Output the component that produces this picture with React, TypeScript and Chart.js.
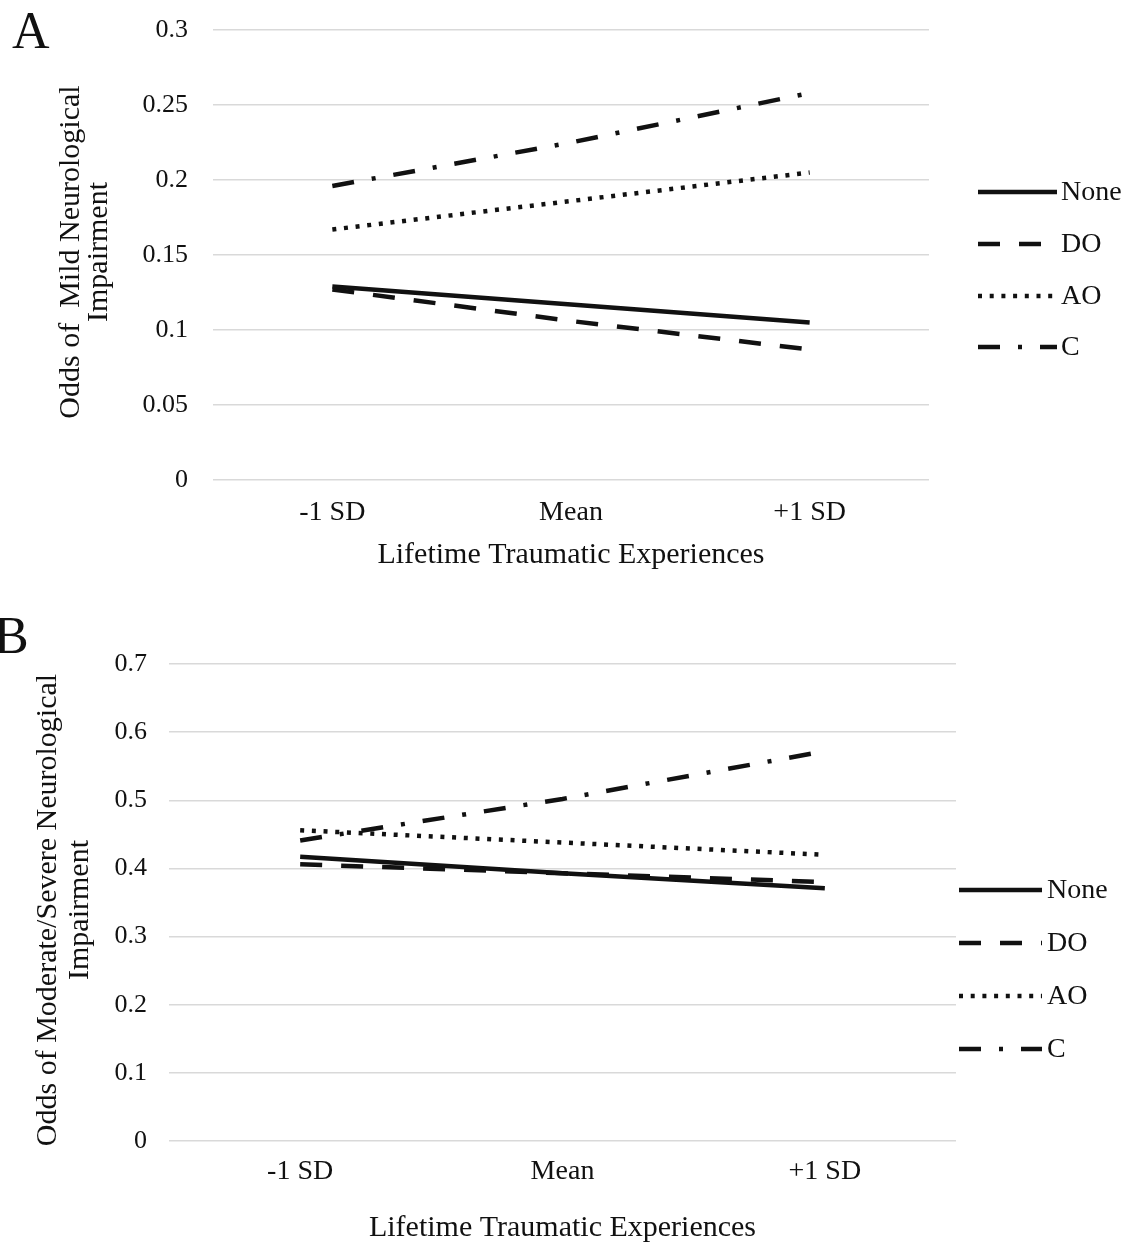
import React, { useEffect, useRef } from "react";
import { Chart, registerables } from "chart.js";

Chart.register(...registerables);

// ---------- data ----------
const categories = ["-1 SD", "Mean", "+1 SD"];
const seriesNames = ["None", "DO", "AO", "C"];

// Panel A: Odds of Mild Neurological Impairment
const mildNone = [0.129, 0.117, 0.105];
const mildDO = [0.127, 0.106, 0.087];
const mildAO = [0.167, 0.186, 0.205];
const mildC = [0.196, 0.225, 0.258];

// Panel B: Odds of Moderate/Severe Neurological Impairment
const modNone = [0.417, 0.393, 0.371];
const modDO = [0.406, 0.393, 0.38];
const modAO = [0.456, 0.438, 0.42];
const modC = [0.441, 0.502, 0.572];

const xAxisTitle = "Lifetime Traumatic Experiences";
const yTitleA = ["Odds of  Mild Neurological", "Impairment"];
const yTitleB = ["Odds of Moderate/Severe Neurological", "Impairment"];

// ---------- styles ----------
const FONT = '"Liberation Serif", "Times New Roman", serif';
const INK = "#111111";
const GRID = "#d9d9d9";
const LINE_W = 4.5;
const dashes: number[][] = [[], [22, 19], [4, 7.7], [22, 18, 4, 18]];

type Spec = {
  letter: string;
  letterX: number;
  letterY: number;
  series: number[][];
  yMax: number;
  yStep: number;
  height: number;
  plot: { left: number; right: number; top: number; bottom: number };
  yTickPad: number;
  xTickPad: number;
  xTitleY: number;
  yTitle: string[];
  yTitleX: number[];
  yTitleCY: number;
  legX0: number;
  legX1: number;
  legTX: number;
  legRows: number[];
};

const W = 1137;

function Panel({ spec }: { spec: Spec }) {
  const ref = useRef<HTMLCanvasElement | null>(null);

  useEffect(() => {
    if (!ref.current) return;
    const s = spec;
    const decor = {
      id: "decor",
      afterDraw(chart: any) {
        const ctx: CanvasRenderingContext2D = chart.ctx;
        const area = chart.chartArea;
        ctx.save();
        ctx.fillStyle = INK;
        // panel letter
        ctx.font = `52px ${FONT}`;
        ctx.textAlign = "left";
        ctx.textBaseline = "alphabetic";
        ctx.fillText(s.letter, s.letterX, s.letterY);
        // x title
        ctx.font = `30px ${FONT}`;
        ctx.textAlign = "center";
        ctx.textBaseline = "middle";
        ctx.fillText(xAxisTitle, (area.left + area.right) / 2, s.xTitleY);
        // y title (rotated)
        s.yTitle.forEach((t, i) => {
          ctx.save();
          ctx.translate(s.yTitleX[i], s.yTitleCY);
          ctx.rotate(-Math.PI / 2);
          ctx.fillText(t, 0, 0);
          ctx.restore();
        });
        // legend
        ctx.textAlign = "left";
        ctx.font = `28px ${FONT}`;
        chart.data.datasets.forEach((ds: any, i: number) => {
          const y = s.legRows[i];
          ctx.save();
          ctx.strokeStyle = INK;
          ctx.lineWidth = LINE_W;
          ctx.lineCap = "butt";
          ctx.setLineDash(dashes[i]);
          ctx.beginPath();
          ctx.moveTo(s.legX0, y);
          ctx.lineTo(s.legX1, y);
          ctx.stroke();
          ctx.restore();
          ctx.fillText(ds.label, s.legTX, y + 1);
        });
        ctx.restore();
      },
    };

    const chart = new Chart(ref.current, {
      type: "line",
      data: {
        labels: categories,
        datasets: s.series.map((vals, i) => ({
          label: seriesNames[i],
          data: vals,
          borderColor: INK,
          backgroundColor: INK,
          borderWidth: LINE_W,
          borderDash: dashes[i],
          borderCapStyle: "butt",
          pointRadius: 0,
          pointHoverRadius: 0,
          tension: 0,
          fill: false,
        })),
      },
      options: {
        animation: false,
        responsive: true,
        maintainAspectRatio: false,
        events: [],
        layout: {
          padding: { left: 0, top: s.plot.top, right: W - s.plot.right, bottom: 0 },
        },
        plugins: {
          legend: { display: false },
          tooltip: { enabled: false },
          title: { display: false },
        },
        scales: {
          x: {
            type: "category",
            offset: true,
            grid: { display: false, drawTicks: false },
            border: { display: false },
            ticks: {
              color: INK,
              font: { family: FONT, size: 28 },
              padding: s.xTickPad,
              maxRotation: 0,
              autoSkip: false,
            },
            afterFit: (scale: any) => {
              scale.height = s.height - s.plot.bottom;
            },
          },
          y: {
            min: 0,
            max: s.yMax,
            grid: {
              color: GRID,
              lineWidth: 1.5,
              drawTicks: true,
              tickLength: s.yTickPad,
              tickColor: "rgba(0,0,0,0)",
            },
            border: { display: false },
            ticks: {
              stepSize: s.yStep,
              color: INK,
              font: { family: FONT, size: 26 },
              padding: 0,
              callback: (v: any) => String(Number(Number(v).toFixed(3))),
            },
            afterFit: (scale: any) => {
              scale.width = s.plot.left;
            },
          },
        },
      },
      plugins: [decor],
    } as any);

    return () => chart.destroy();
  }, [spec]);

  return (
    <div style={{ position: "relative", width: W, height: spec.height }}>
      <canvas ref={ref} />
    </div>
  );
}

const specA: Spec = {
  letter: "A",
  letterX: 12,
  letterY: 48,
  series: [mildNone, mildDO, mildAO, mildC],
  yMax: 0.3,
  yStep: 0.05,
  height: 590,
  plot: { left: 213, right: 929, top: 30, bottom: 480 },
  yTickPad: 25,
  xTickPad: 16,
  xTitleY: 555,
  yTitle: yTitleA,
  yTitleX: [71, 99],
  yTitleCY: 252,
  legX0: 978,
  legX1: 1057,
  legTX: 1061,
  legRows: [192, 244, 296, 347],
};

const specB: Spec = {
  letter: "B",
  letterX: -6,
  letterY: 63,
  series: [modNone, modDO, modAO, modC],
  yMax: 0.7,
  yStep: 0.1,
  height: 655,
  plot: { left: 169, right: 956, top: 74, bottom: 551 },
  yTickPad: 22,
  xTickPad: 14,
  xTitleY: 638,
  yTitle: yTitleB,
  yTitleX: [48, 80],
  yTitleCY: 320,
  legX0: 959,
  legX1: 1042,
  legTX: 1047,
  legRows: [300, 353, 406, 459],
};

export default function App() {
  return (
    <div
      style={{
        position: "absolute",
        left: 0,
        top: 0,
        width: W,
        height: 1245,
        background: "#ffffff",
        overflow: "hidden",
      }}
    >
      <Panel spec={specA} />
      <Panel spec={specB} />
    </div>
  );
}
